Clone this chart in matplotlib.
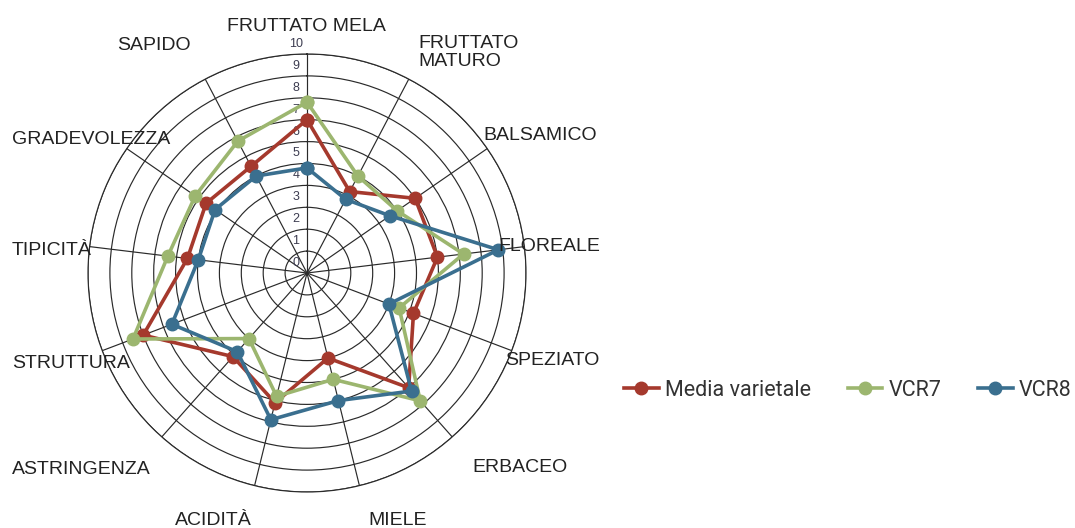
import numpy as np
import matplotlib
matplotlib.use("Agg")
import matplotlib.pyplot as plt
from matplotlib import transforms
from matplotlib.lines import Line2D

# Sensory attributes (clockwise from the top) and panel scores
categories = ["FRUTTATO MELA", "FRUTTATO\nMATURO", "BALSAMICO", "FLOREALE", "SPEZIATO",
              "ERBACEO", "MIELE", "ACIDITÀ", "ASTRINGENZA", "STRUTTURA", "TIPICITÀ",
              "GRADEVOLEZZA", "SAPIDO"]
media_varietale = [7.0, 4.2, 6.0, 6.0, 5.2, 7.0, 4.0, 6.1, 5.1, 8.0, 5.5, 5.6, 5.5]
vcr7 = [7.8, 5.0, 5.0, 7.2, 4.5, 7.8, 5.0, 5.8, 4.0, 8.5, 6.4, 6.2, 6.8]
vcr8 = [4.8, 3.8, 4.6, 8.8, 4.0, 7.2, 6.0, 6.9, 4.8, 6.6, 5.0, 5.1, 5.0]
series_names = ["Media varietale", "VCR7", "VCR8"]
series_colors = ["#A5392D", "#9CB66F", "#3A6F8F"]
r_ticks = list(range(0, 11))

# Label placement in pixels (x, baseline y from top, horizontal alignment)
label_layout = [(306, 31, "center"), (418, 48, "left"), (483, 140, "left"),
                (498, 251, "left"), (505, 365, "left"), (472, 472, "left"),
                (398, 525, "center"), (213, 525, "center"), (12, 474, "left"),
                (12, 368, "left"), (12, 255, "left"), (12, 144, "left"),
                (154, 50, "center")]

W, H = 1075, 528
fig = plt.figure(figsize=(W / 100, H / 100), dpi=100)
cx, cy, rad = 307, 273, 219
ax = fig.add_axes([(cx - rad) / W, (H - cy - rad) / H, 2 * rad / W, 2 * rad / H],
                  projection="polar")
ax.set_theta_zero_location("N")
ax.set_theta_direction(-1)
ax.set_ylim(0, 10)

n = len(categories)
angles = np.arange(n) * 2 * np.pi / n

ax.set_xticks(angles)
ax.set_xticklabels([])
ax.set_yticks(r_ticks[1:])
ax.set_yticklabels([])
ax.grid(True, color="#2a2a2a", linewidth=0.85)
ax.spines["polar"].set_color("#2a2a2a")
ax.spines["polar"].set_linewidth(0.85)

# Radial scale labels just left of the vertical spoke
off = transforms.offset_copy(ax.transData, fig=fig, x=-11, y=10, units="dots")
for r in r_ticks:
    ax.text(0, r, str(r), transform=off, ha="center", va="center",
            fontsize=9, color="#3c3c50", family=["Liberation Sans", "DejaVu Sans"])

closed = np.append(angles, angles[0])
for vals, name, col in zip([media_varietale, vcr7, vcr8], series_names, series_colors):
    v = np.append(vals, vals[0])
    ax.plot(closed, v, color=col, linewidth=2.6, marker="o", markersize=9,
            label=name, clip_on=False, zorder=3)

for lab, (x, yb, ha) in zip(categories, label_layout):
    lines = lab.split("\n")
    for i, line in enumerate(lines):
        fig.text(x / W, 1 - (yb + i * 17.5) / H, line, ha=ha, va="baseline",
                 fontsize=14, color="#222222",
                 family=["Liberation Sans", "DejaVu Sans"])

handles = [Line2D([], [], color=c, linewidth=2.6, marker="o", markersize=9)
           for c in series_colors]
fig.legend(handles, series_names, loc="center", bbox_to_anchor=(848 / W, 1 - 390 / H),
           ncol=3, frameon=False, handlelength=1.6, handletextpad=0.3,
           columnspacing=1.7, borderpad=0, borderaxespad=0,
           prop={"family": ["Roboto", "DejaVu Sans"], "size": 15.5},
           labelcolor="#333333")

fig.savefig("out.png", dpi=100, facecolor="white")
